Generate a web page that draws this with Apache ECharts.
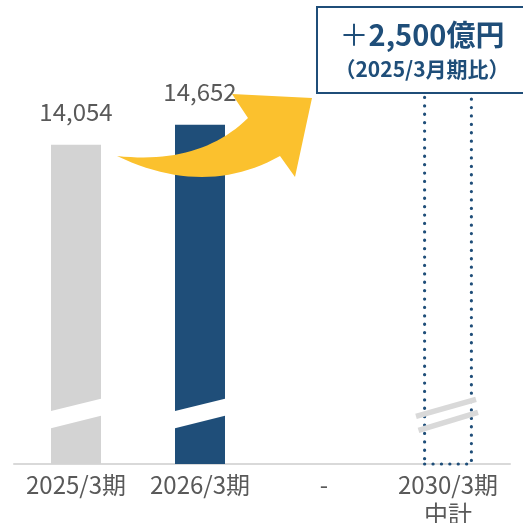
<!DOCTYPE html>
<html>
<head>
<meta charset="utf-8">
<script src="https://cdn.jsdelivr.net/npm/echarts@6/dist/echarts.min.js"></script>
<style>
  html, body { margin: 0; padding: 0; background: #fff; }
  #main { width: 523px; height: 523px; }
</style>
</head>
<body>
<div id="main"></div>
<script>
// 売上高の推移（億円）
const categories = ['2025/3期', '2026/3期', '-', '2030/3期\n中計'];
const salesValues = [14054, 14652, null, 16554];
const barKinds = ['actual', 'forecast', 'none', 'target'];
const increaseSign = '＋';
const increaseText = '2,500億円';
const increaseNote = '（2025/3月期比）';

// 省略された縦軸の範囲と、省略記号を置く値
const axisMin = 4500;
const axisMax = 18000;
const breakAt = 6000;

const FONT = '"Noto Sans CJK JP", "Noto Sans", sans-serif';
const NAVY = '#1f4e79';
const GREY_BAR = '#d3d3d3';
const TEXT_GREY = '#595959';
const YELLOW = '#fbc12e';

const styleByKind = {
  actual:   { color: GREY_BAR },
  forecast: { color: NAVY },
  none:     { color: 'transparent' },
  target:   { color: 'rgba(0,0,0,0)', borderColor: NAVY, borderWidth: 3.2,
              borderType: [0.1, 8.3], borderCap: 'round' }
};

const barData = salesValues.map((v, i) => ({
  value: v,
  itemStyle: styleByKind[barKinds[i]],
  label: { show: barKinds[i] === 'actual' || barKinds[i] === 'forecast' }
}));

const chart = echarts.init(document.getElementById('main'), null, { renderer: 'canvas' });

chart.setOption({
  animation: false,
  backgroundColor: '#fff',
  grid: { left: 14, right: 13, top: 13, bottom: 59, outerBoundsMode: 'none', containLabel: false },
  xAxis: {
    type: 'category',
    data: categories,
    axisTick: { show: false },
    axisLine: { lineStyle: { color: '#d9d9d9', width: 2 } },
    axisLabel: {
      color: TEXT_GREY, fontFamily: FONT, fontSize: 24, lineHeight: 29, margin: 6,
      interval: 0
    }
  },
  yAxis: {
    type: 'value', min: axisMin, max: axisMax, show: false,
    splitLine: { show: false }
  },
  series: [{
    type: 'bar',
    data: barData,
    barWidth: 50,
    z: 2,
    label: {
      position: 'top', distance: 21,
      color: TEXT_GREY, fontFamily: FONT, fontSize: 24,
      formatter: p => p.value.toLocaleString('en-US')
    }
  }]
});

// 二次ベジェ曲線を折れ線の点列にする
function quadPoints(p0, c, p1, n) {
  const pts = [];
  for (let k = 0; k <= n; k++) {
    const t = k / n, u = 1 - t;
    pts.push([u * u * p0[0] + 2 * u * t * c[0] + t * t * p1[0],
              u * u * p0[1] + 2 * u * t * c[1] + t * t * p1[1]]);
  }
  return pts;
}

// 省略記号・矢印・増加額の注記
function buildGraphics() {
  const g = [];
  const half = 26;
  salesValues.forEach((v, i) => {
    if (v == null) return;
    const [cx, cy] = chart.convertToPixel({ xAxisIndex: 0, yAxisIndex: 0 }, [i, breakAt]);
    if (barKinds[i] === 'target') {
      // 目標バーの省略記号（二重線）
      g.push({
        type: 'line', z: 10,
        shape: { x1: cx - 32, y1: cy + 2.5, x2: cx + 28, y2: cy - 14.5 },
        style: { stroke: '#d9d9d9', lineWidth: 5.5 }
      });
      g.push({
        type: 'line', z: 10,
        shape: { x1: cx - 29.5, y1: cy + 16.5, x2: cx + 30, y2: cy - 1.5 },
        style: { stroke: '#d9d9d9', lineWidth: 5.5 }
      });
    } else {
      // 実績バーの省略記号（白い斜め帯）
      g.push({
        type: 'polygon', z: 10,
        shape: { points: [
          [cx - half, cy - 2.6], [cx + half, cy - 15.3],
          [cx + half, cy + 1.6], [cx - half, cy + 14.6]
        ] },
        style: { fill: '#fff' }
      });
    }
  });

  // 増加を示す黄色の曲線矢印
  const upper = quadPoints([117, 156], [200, 165], [248, 118], 24);
  const head = [[232, 94], [312, 98], [295, 177]];
  const lower = quadPoints([280, 156], [205, 198], [117, 156], 24);
  g.push({
    type: 'polygon', z: 20,
    shape: { points: upper.concat(head, lower) },
    style: { fill: YELLOW }
  });

  // 増加額の注記枠
  g.push({
    type: 'rect', z: 30,
    shape: { x: 317, y: 7, width: 220, height: 86 },
    style: { fill: '#fff', stroke: NAVY, lineWidth: 2 }
  });
  g.push({
    type: 'text', z: 31, x: 422, y: 35,
    style: {
      text: '{s|' + increaseSign + '}{v|' + increaseText + '}',
      align: 'center', verticalAlign: 'middle',
      rich: {
        s: { fill: NAVY, fontFamily: FONT, fontSize: 29, fontWeight: 'normal' },
        v: { fill: NAVY, fontFamily: FONT, fontSize: 29, fontWeight: 'bold' }
      }
    }
  });
  g.push({
    type: 'text', z: 31, x: 422, y: 69,
    style: {
      text: increaseNote, fill: NAVY, font: 'bold 21px ' + FONT,
      align: 'center', verticalAlign: 'middle'
    }
  });
  return g;
}

chart.setOption({ graphic: { elements: buildGraphics() } });
</script>
</body>
</html>
